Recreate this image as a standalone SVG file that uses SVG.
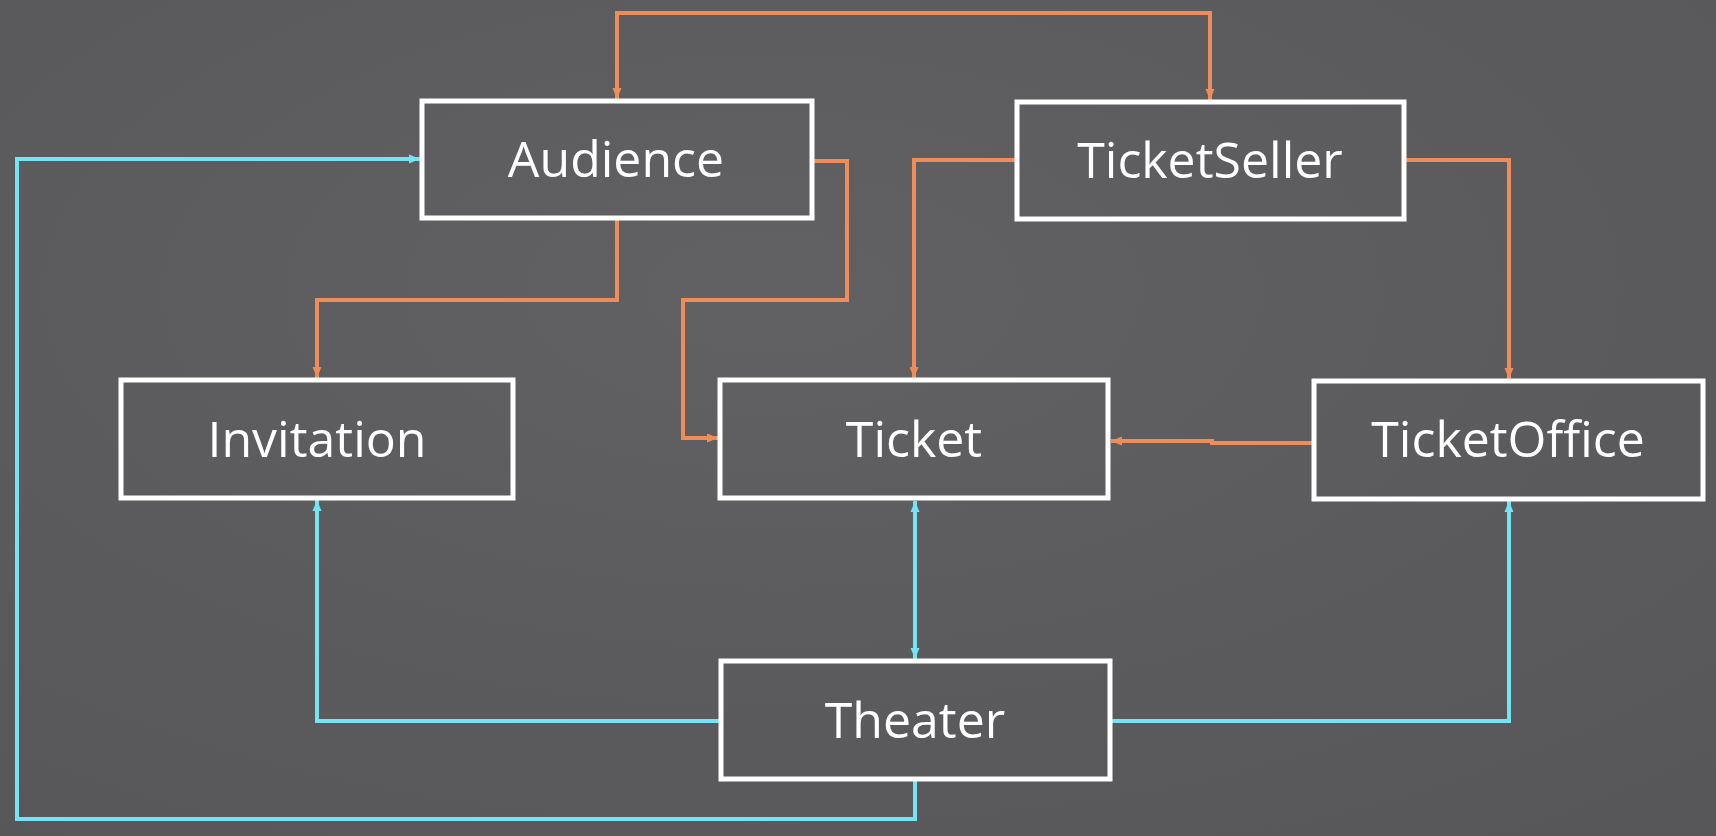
<svg xmlns="http://www.w3.org/2000/svg" width="1716" height="836" viewBox="0 0 1716 836">
  <defs>
    <radialGradient id="bg" cx="0.45" cy="0.35" r="0.8">
      <stop offset="0" stop-color="#616163"/>
      <stop offset="1" stop-color="#575759"/>
    </radialGradient>
    <marker id="ao" markerUnits="userSpaceOnUse" markerWidth="12" markerHeight="10" refX="11" refY="5" orient="auto-start-reverse">
      <path d="M0,0.5 L11,5 L0,9.5 z" fill="#EE8D59"/>
    </marker>
    <marker id="ac" markerUnits="userSpaceOnUse" markerWidth="12" markerHeight="10" refX="11" refY="5" orient="auto-start-reverse">
      <path d="M0,0.5 L11,5 L0,9.5 z" fill="#74E3F3"/>
    </marker>
    <style>
      .box { fill: none; stroke: #FFFFFF; stroke-width: 5; }
      .lbl { fill: #FFFFFF; font-family: "Open Sans", "Noto Sans", "DejaVu Sans", sans-serif; font-size: 50px; text-anchor: middle; }
      .o { fill: none; stroke: #EE8D59; stroke-width: 4; stroke-linejoin: miter; }
      .c { fill: none; stroke: #74E3F3; stroke-width: 4; stroke-linejoin: miter; }
    </style>
  </defs>
  <rect x="0" y="0" width="1716" height="836" fill="url(#bg)"/>

  <g id="connectors">
    <path class="o" d="M617,99 V13 H1210 V100" marker-start="url(#ao)" marker-end="url(#ao)"/>
    <path class="o" d="M617,219 V300 H317 V378" marker-end="url(#ao)"/>
    <path class="o" d="M812,161 H847 V300 H683 V438 H718" marker-end="url(#ao)"/>
    <path class="o" d="M1017,160 H914 V378" marker-end="url(#ao)"/>
    <path class="o" d="M1404,160 H1509 V379" marker-end="url(#ao)"/>
    <path class="o" d="M1314,443 H1212 V441 H1111" marker-end="url(#ao)"/>
    <path class="c" d="M915,501 V659" marker-start="url(#ac)" marker-end="url(#ac)"/>
    <path class="c" d="M721,721 H317 V500" marker-end="url(#ac)"/>
    <path class="c" d="M1110,721 H1509 V501" marker-end="url(#ac)"/>
    <path class="c" d="M915,779 V819 H17 V159 H420" marker-end="url(#ac)"/>
  </g>

  <g id="audience">
    <rect class="box" x="422" y="101" width="390" height="117"/>
    <text class="lbl" x="616" y="177">Audience</text>
  </g>
  <g id="ticketseller">
    <rect class="box" x="1017" y="102" width="387" height="117"/>
    <text class="lbl" x="1210" y="178">TicketSeller</text>
  </g>
  <g id="invitation">
    <rect class="box" x="121" y="380" width="392" height="118"/>
    <text class="lbl" x="317" y="457">Invitation</text>
  </g>
  <g id="ticket">
    <rect class="box" x="720" y="380" width="388" height="118"/>
    <text class="lbl" x="914" y="457">Ticket</text>
  </g>
  <g id="ticketoffice">
    <rect class="box" x="1314" y="381" width="389" height="118"/>
    <text class="lbl" x="1508" y="457">TicketOffice</text>
  </g>
  <g id="theater">
    <rect class="box" x="721" y="661" width="389" height="118"/>
    <text class="lbl" x="915" y="738">Theater</text>
  </g>
</svg>
